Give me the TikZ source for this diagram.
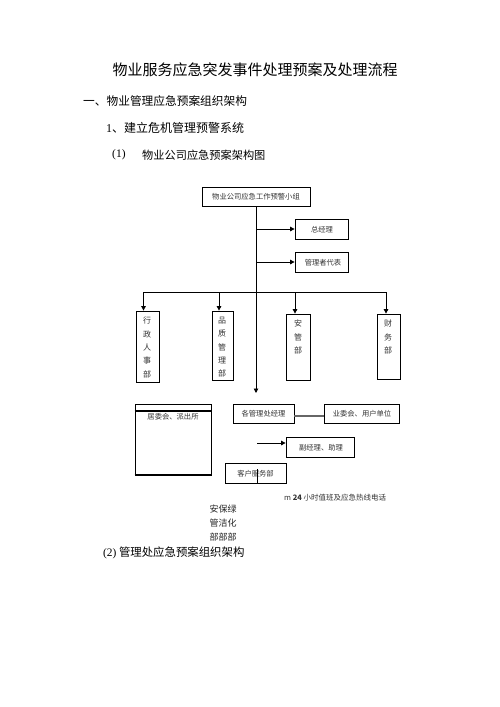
\documentclass[tikz,border=0pt]{standalone}
\usepackage{fontspec}
\setmainfont{Liberation Serif}
\newfontfamily\cjk{Noto Sans CJK SC}
\newfontfamily\lser{Liberation Serif}
\usetikzlibrary{arrows.meta}
\tikzset{
  box/.style={draw, line width=0.8pt, inner sep=0pt},
  boxtext/.style={inner sep=0pt, text=black!80, font=\cjk\fontsize{7.3}{8}\selectfont},
  vtext/.style={inner sep=0pt, align=center, text=black!80, font=\cjk\fontsize{8}{13.3}\selectfont},
  head/.style={inner sep=0pt, anchor=west},
  conn/.style={line width=0.8pt},
  thickline/.style={line width=2pt},
  arr/.style={line width=0.9pt, -{Triangle[length=4.5pt,width=4.5pt]}}
}
\begin{document}
\begin{tikzpicture}[x=1pt,y=-1pt]
\useasboundingbox[fill=white] (0,0) rectangle (500,707);

% headings
\node[inner sep=0pt, font=\cjk\fontsize{15}{16}\selectfont] (title) at (255,70) {物业服务应急突发事件处理预案及处理流程};
\node[head, font=\cjk\fontsize{11.7}{13}\selectfont] (h1) at (83,101) {一、物业管理应急预案组织架构};
\node[head, font=\cjk\fontsize{12}{13}\selectfont] (h2) at (106,128) {{\lser 1}、建立危机管理预警系统};
\node[head, font=\lser\fontsize{11.5}{13}\selectfont] (h3a) at (112,155) {(1)};
\node[head, font=\cjk\fontsize{11.2}{13}\selectfont] (h3b) at (142,155) {物业公司应急预案架构图};

% top chart
\node[box, minimum width=108pt, minimum height=19pt] (top) at (256,196.5) {};
\node[boxtext] (topt) at (256,196.5) {物业公司应急工作预警小组};

\node[box, minimum width=53pt, minimum height=20pt] (zjl) at (321.5,229) {};
\node[boxtext] (zjlt) at (322,230) {总经理};
\node[box, minimum width=53pt, minimum height=20pt] (gld) at (321.5,262) {};
\node[boxtext] (gldt) at (323,263) {管理者代表};

\coordinate (tend) at (256,393);
\draw[arr] (top.south) -- (tend);
\draw[arr] (top.south |- zjl.west) -- (zjl.west);
\draw[arr] (top.south |- gld.west) -- (gld.west);

% departments
\node[box, minimum width=23pt, minimum height=71pt] (xz) at (147.5,346.5) {};
\node[box, minimum width=21pt, minimum height=69pt] (pz) at (222.5,345.5) {};
\node[box, minimum width=24pt, minimum height=66pt] (ag) at (298,347) {};
\node[box, minimum width=23pt, minimum height=65pt] (cw) at (388.5,346.5) {};
\node[vtext, anchor=north] (xzt) at (147,317) {行\\政\\人\\事\\部};
\node[vtext, anchor=north] (pzt) at (222,317) {品\\质\\管\\理\\部};
\node[vtext, anchor=north] (agt) at (298,320) {安\\管\\部};
\node[vtext, anchor=north] (cwt) at (388,320) {财\\务\\部};

\coordinate (barL) at (143.5,292);
\coordinate (barR) at (386,292);
\draw[conn] (barL) -- (barR);
\draw[arr] (barL) -- ([xshift=-4pt]xz.north);
\draw[arr] ([xshift=-3.5pt]pz.north |- barL) -- ([xshift=-3.5pt]pz.north);
\draw[arr] ([xshift=-3pt]ag.north |- barL) -- ([xshift=-3pt]ag.north);
\draw[arr] (barR) -- ([xshift=-2.5pt]cw.north);

% lower part
\node[box, minimum width=76pt, minimum height=71pt] (jw) at (173,439.5) {};
\draw[thickline] ([yshift=-7pt]jw.north west) -- ([yshift=-7pt]jw.north east);
\draw[thickline] (jw.south west) -- (jw.south east);
\node[boxtext] (jwt) at (173,416.5) {居委会、派出所};

\node[box, minimum width=61pt, minimum height=19pt] (gc) at (263.5,413.5) {};
\node[boxtext] (gct) at (263.5,414) {各管理处经理};
\node[box, minimum width=75pt, minimum height=19pt] (yw) at (361.5,413.5) {};
\node[boxtext] (ywt) at (362,414) {业委会、用户单位};
\draw[line width=1.4pt, black!60] ([yshift=-2.5pt]gc.east) -- ([yshift=-2.5pt]yw.west);

\node[box, minimum width=68pt, minimum height=20pt] (fj) at (320,447) {};
\node[boxtext] (fjt) at (321,448) {副经理、助理};
\coordinate (fjs) at (257,443);
\draw[arr] (fjs) -- (fjs -| fj.west);

\node[box, minimum width=61pt, minimum height=20pt] (kf) at (255.5,473) {};
\node[boxtext] (kft) at (255.5,474) {客户服务部};
\coordinate (kfm) at (257,469);
\draw[conn] (kfm) -- (kfm |- kf.south);

\node[head, text=black!80, font=\cjk\fontsize{7.5}{8}\selectfont] (m24) at (284,498) {m {\bfseries 24} 小时值班及应急热线电话};
\node[inner sep=0pt, align=center, text=black!85, font=\cjk\fontsize{9}{14}\selectfont] (abl) at (223,523) {安保绿\\管洁化\\部部部};
\node[head, font=\cjk\fontsize{11.4}{13}\selectfont] (h4) at (103,553) {{\lser (2)} 管理处应急预案组织架构};
\end{tikzpicture}
\end{document}
